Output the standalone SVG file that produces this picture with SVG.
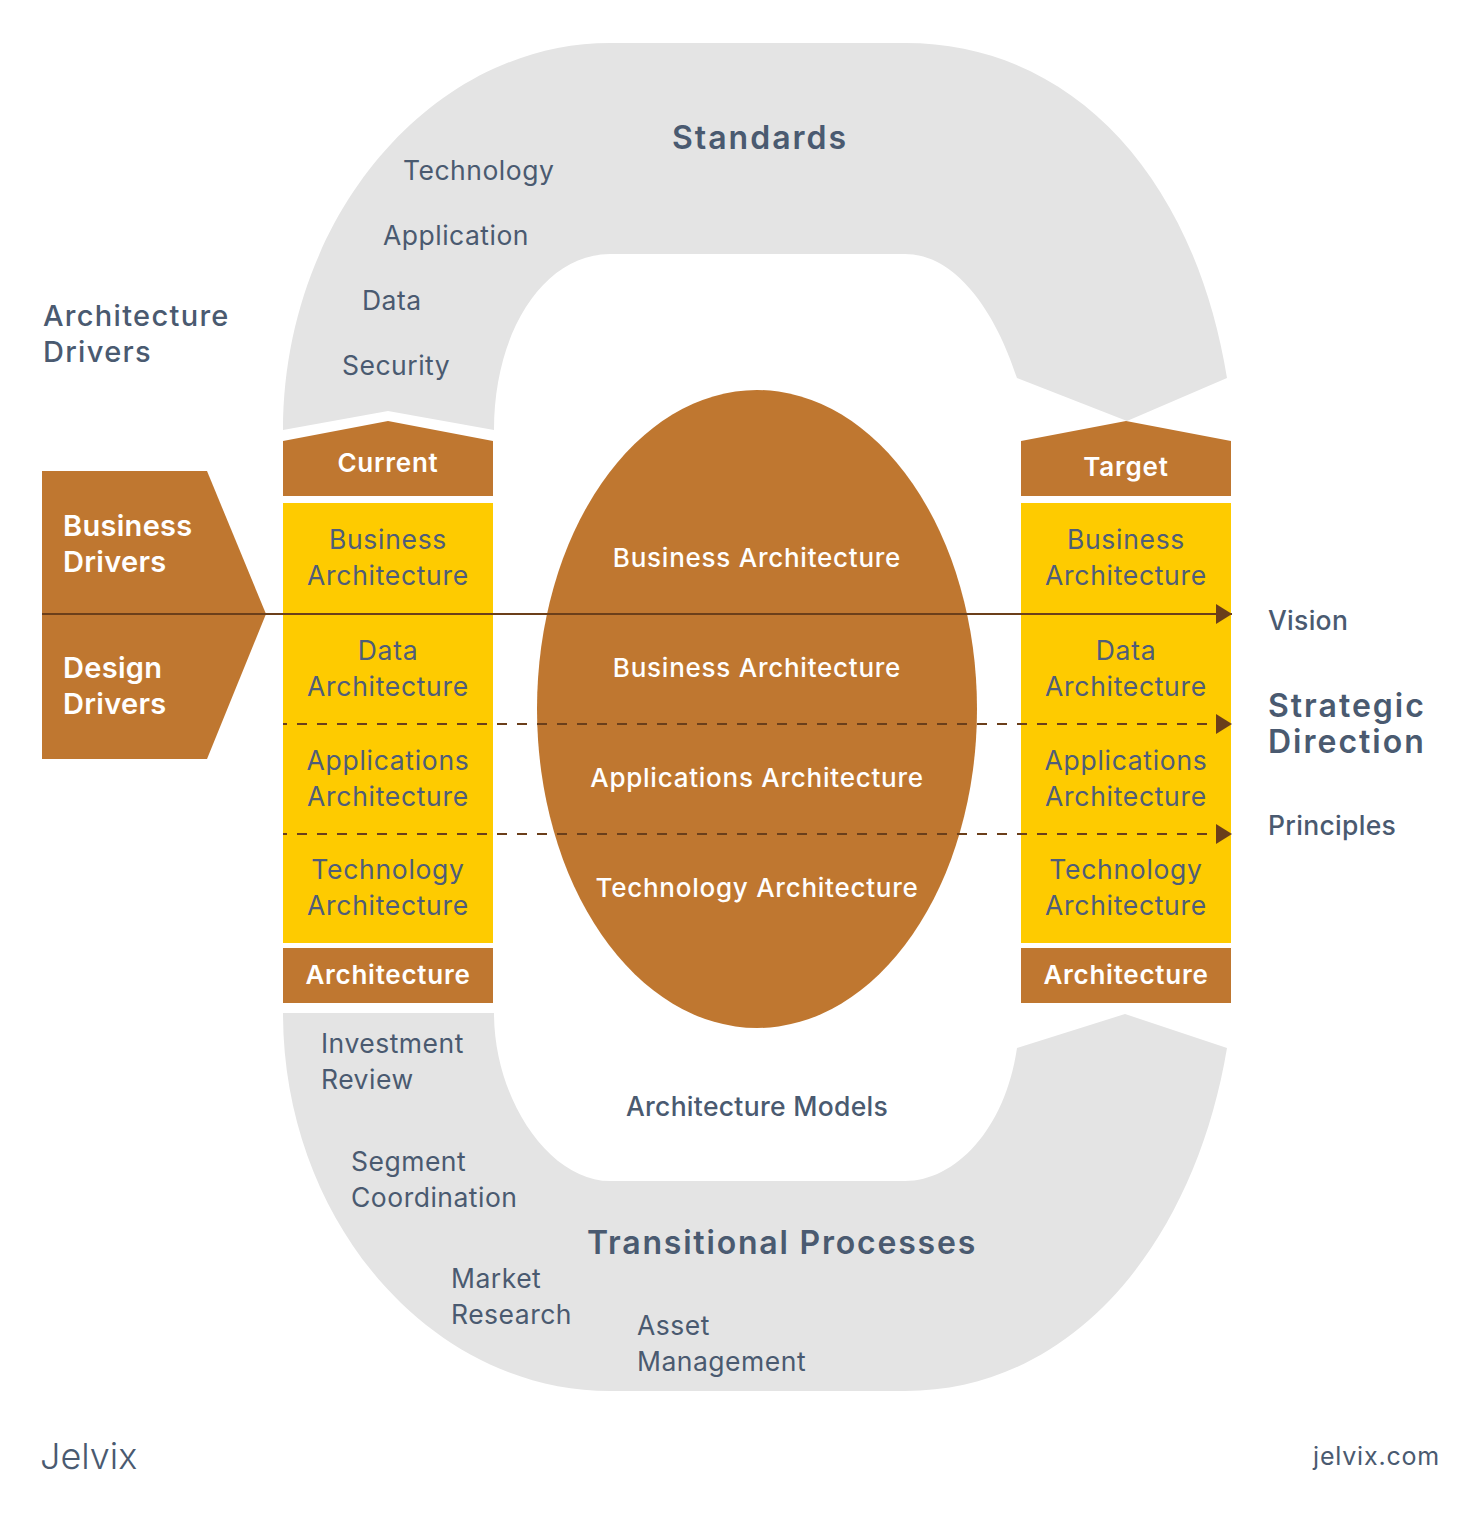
<svg xmlns="http://www.w3.org/2000/svg" width="1480" height="1514" viewBox="0 0 1480 1514">
<style>
text{font-family:"Inter","Open Sans","Liberation Sans",sans-serif;fill:#4a5a70}
.b{font-size:26.5px;letter-spacing:.5px}
.m{font-size:26.5px;font-weight:500;letter-spacing:.3px}
.h{font-size:32px;font-weight:600;letter-spacing:2px}
.y{font-size:26.5px;fill:#4f5d7a;text-anchor:middle;letter-spacing:.7px}
.w{fill:#fff;font-weight:600;font-size:26px;text-anchor:middle;letter-spacing:.75px}
.o{fill:#fff;font-weight:500;font-size:26px;text-anchor:middle;letter-spacing:.75px}
.d{fill:#fff;font-weight:600;font-size:29px;letter-spacing:.3px}
.l{font-weight:500;font-size:29px;letter-spacing:1.3px}
.g{fill:#e4e4e4}.br{fill:#bf7730}.ye{fill:#fecb00}
.s{stroke:#6b3f1a;stroke-width:2;fill:none}
.da{stroke-dasharray:10 10;stroke-dashoffset:6}
</style>
<defs><marker id="a" markerUnits="userSpaceOnUse" markerWidth="16" markerHeight="20" refX="16" refY="10" orient="auto"><path d="M0 0L16 10L0 20Z" fill="#6b3f1a"/></marker></defs>
<rect width="1480" height="1514" fill="#fff"/>
<g id="standards">
<path class="g" d="M283 430C283 220 430 43 610 43L905 43C1075 43 1195 180 1227 378L1127 421L1017 378C995 310 955 254 905 254L610 254C545 254 494 330 494 430L388 411Z"/>
<text class="h" x="760" y="149" text-anchor="middle">Standards</text>
<text class="b" x="403" y="180">Technology</text>
<text class="b" x="383" y="245">Application</text>
<text class="b" x="362" y="310">Data</text>
<text class="b" x="342" y="375">Security</text>
</g>
<g id="transitional">
<path class="g" d="M283 1013L494 1013C494 1100 550 1181 610 1181L905 1181C955 1181 1005 1130 1017 1048L1125 1014L1227 1048C1195 1240 1075 1391 905 1391L610 1391C430 1391 283 1220 283 1013Z"/>
<text class="h" x="782" y="1254" text-anchor="middle" style="letter-spacing:1.8px">Transitional Processes</text>
<text class="b" x="321" y="1053">Investment</text><text class="b" x="321" y="1089">Review</text>
<text class="b" x="351" y="1171">Segment</text><text class="b" x="351" y="1207">Coordination</text>
<text class="b" x="451" y="1288">Market</text><text class="b" x="451" y="1324">Research</text>
<text class="b" x="637" y="1335">Asset</text><text class="b" x="637" y="1371">Management</text>
</g>
<g id="drivers-label"><text class="l" x="43" y="326">Architecture</text><text class="l" x="43" y="362">Drivers</text></g>
<g id="drivers">
<path class="br" d="M42 471L207 471L266 614L207 759L42 759Z"/>
<text class="d" x="63" y="536">Business</text><text class="d" x="63" y="572">Drivers</text>
<text class="d" x="63" y="678">Design</text><text class="d" x="63" y="714">Drivers</text>
</g>
<g id="current">
<path class="br" d="M283 441L388 421L493 441L493 496L283 496Z"/>
<text class="w" x="388" y="472">Current</text>
<rect class="ye" x="283" y="503" width="210" height="440"/>
<text class="y" x="388" y="549">Business</text><text class="y" x="388" y="585">Architecture</text>
<text class="y" x="388" y="660">Data</text><text class="y" x="388" y="696">Architecture</text>
<text class="y" x="388" y="770">Applications</text><text class="y" x="388" y="806">Architecture</text>
<text class="y" x="388" y="879">Technology</text><text class="y" x="388" y="915">Architecture</text>
<rect class="br" x="283" y="948" width="210" height="55"/>
<text class="w" x="388" y="984">Architecture</text>
</g>
<g id="target">
<path class="br" d="M1021 441L1126 421L1231 441L1231 496L1021 496Z"/>
<text class="w" x="1126" y="476">Target</text>
<rect class="ye" x="1021" y="503" width="210" height="440"/>
<text class="y" x="1126" y="549">Business</text><text class="y" x="1126" y="585">Architecture</text>
<text class="y" x="1126" y="660">Data</text><text class="y" x="1126" y="696">Architecture</text>
<text class="y" x="1126" y="770">Applications</text><text class="y" x="1126" y="806">Architecture</text>
<text class="y" x="1126" y="879">Technology</text><text class="y" x="1126" y="915">Architecture</text>
<rect class="br" x="1021" y="948" width="210" height="55"/>
<text class="w" x="1126" y="984">Architecture</text>
</g>
<g id="models">
<ellipse class="br" cx="757" cy="709" rx="220" ry="319"/>
<text class="o" x="757" y="567">Business Architecture</text>
<text class="o" x="757" y="677">Business Architecture</text>
<text class="o" x="757" y="787">Applications Architecture</text>
<text class="o" x="757" y="897">Technology Architecture</text>
<text class="m" x="757" y="1116" text-anchor="middle">Architecture Models</text>
</g>
<g id="connectors">
<line class="s" x1="42" y1="614" x2="1232" y2="614" marker-end="url(#a)"/>
<line class="s da" x1="283" y1="724" x2="1232" y2="724" marker-end="url(#a)"/>
<line class="s da" x1="283" y1="834" x2="1232" y2="834" marker-end="url(#a)"/>
</g>
<g id="direction">
<text class="m" x="1268" y="630">Vision</text>
<text class="h" x="1268" y="717">Strategic</text><text class="h" x="1268" y="753">Direction</text>
<text class="m" x="1268" y="835">Principles</text>
</g>
<g id="footer">
<text x="40" y="1469" style="font-size:36px;font-weight:300">Jelvix</text>
<text x="1440" y="1465" text-anchor="end" style="font-size:25px;letter-spacing:.8px">jelvix.com</text>
</g>
</svg>
